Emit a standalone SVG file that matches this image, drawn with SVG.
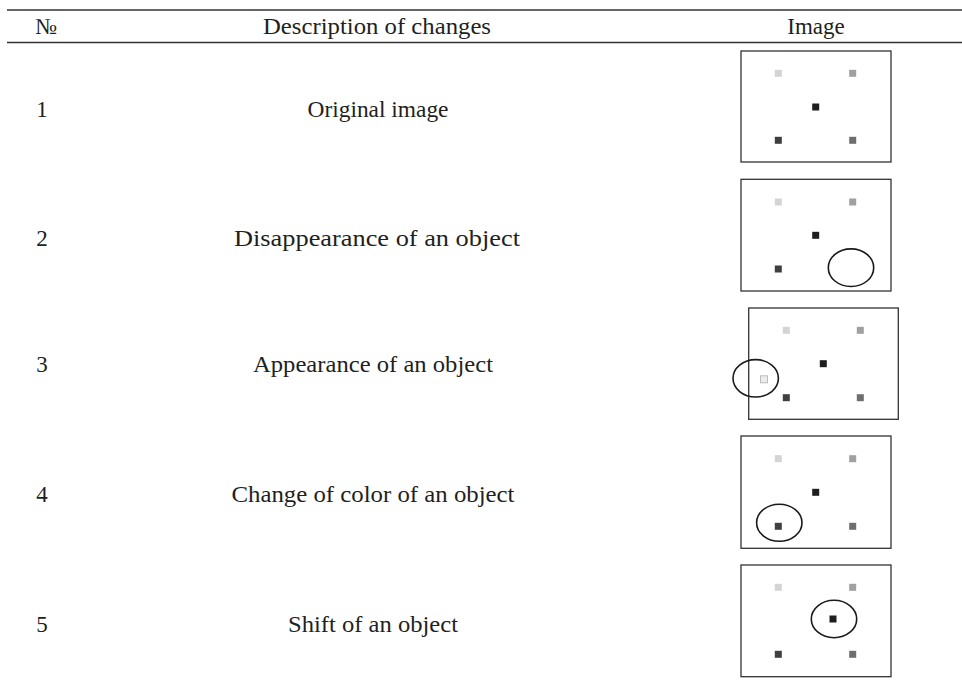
<svg xmlns="http://www.w3.org/2000/svg" width="962" height="682" viewBox="0 0 962 682">
<style>
text{font-family:"Liberation Serif","Times New Roman",serif;font-size:23px;fill:#231f20;text-anchor:middle}
.rule{stroke:#333;stroke-width:1.4;fill:none}
.frame{fill:#fff;stroke:#333;stroke-width:1.3}
.mark{fill:none;stroke:#1a1a1a;stroke-width:1.6}
.c1{fill:#d4d4d4}.c2{fill:#a0a0a0}.c3{fill:#1e1e1e}.c4{fill:#3f3f3f}.c5{fill:#6e6e6e}
.c6{fill:#ececec;stroke:#bdbdbd;stroke-width:1}
</style>
<defs>
<g id="sq"><rect x="-3.5" y="-3.5" width="7" height="7"/></g>
</defs>
<rect width="962" height="682" fill="#fff"/>
<g id="table-rules">
<line class="rule" x1="7" y1="10" x2="962" y2="10"/>
<line class="rule" x1="7" y1="42.5" x2="962" y2="42.5"/>
</g>
<g id="header">
<text x="46" y="34">№</text>
<text x="377" y="34" textLength="228" lengthAdjust="spacingAndGlyphs">Description of changes</text>
<text x="816" y="34">Image</text>
</g>
<g id="row1">
<text x="42" y="117">1</text>
<text x="378" y="117" textLength="141" lengthAdjust="spacingAndGlyphs">Original image</text>
<rect class="frame" x="741" y="51" width="150" height="111"/>
<use href="#sq" class="c1" x="778.3" y="73.3"/>
<use href="#sq" class="c2" x="852.7" y="73.3"/>
<use href="#sq" class="c3" x="815.7" y="107"/>
<use href="#sq" class="c4" x="778.3" y="140.3"/>
<use href="#sq" class="c5" x="852.7" y="140.3"/>
</g>
<g id="row2">
<text x="42" y="246">2</text>
<text x="377" y="246" textLength="286" lengthAdjust="spacingAndGlyphs">Disappearance of an object</text>
<rect class="frame" x="741" y="179.3" width="150" height="111.7"/>
<use href="#sq" class="c1" x="778.3" y="202"/>
<use href="#sq" class="c2" x="852.7" y="202"/>
<use href="#sq" class="c3" x="815.7" y="235.3"/>
<use href="#sq" class="c4" x="778.3" y="269"/>
<ellipse class="mark" cx="851" cy="267.7" rx="22.7" ry="18.8"/>
</g>
<g id="row3">
<text x="42" y="372.3">3</text>
<text x="373" y="372.3" textLength="240" lengthAdjust="spacingAndGlyphs">Appearance of an object</text>
<rect class="frame" x="748.7" y="308" width="149.6" height="111.3"/>
<use href="#sq" class="c1" x="786.3" y="330.3"/>
<use href="#sq" class="c2" x="860.3" y="330.3"/>
<use href="#sq" class="c3" x="823.3" y="363.7"/>
<use href="#sq" class="c4" x="786.3" y="397.7"/>
<use href="#sq" class="c5" x="860.3" y="397.7"/>
<use href="#sq" class="c6" x="764" y="379.3"/>
<ellipse class="mark" cx="755.7" cy="378.3" rx="22.7" ry="18.7"/>
</g>
<g id="row4">
<text x="42" y="501.7">4</text>
<text x="373" y="501.7" textLength="283" lengthAdjust="spacingAndGlyphs">Change of color of an object</text>
<rect class="frame" x="741" y="436" width="150" height="112.3"/>
<use href="#sq" class="c1" x="778.3" y="458.7"/>
<use href="#sq" class="c2" x="852.7" y="458.7"/>
<use href="#sq" class="c3" x="815.7" y="492.3"/>
<use href="#sq" class="c4" x="778.3" y="526.3"/>
<use href="#sq" class="c5" x="852.7" y="526.3"/>
<ellipse class="mark" cx="779.3" cy="522.7" rx="22.7" ry="18.5"/>
</g>
<g id="row5">
<text x="42" y="632">5</text>
<text x="373" y="632" textLength="170" lengthAdjust="spacingAndGlyphs">Shift of an object</text>
<rect class="frame" x="741" y="565" width="150" height="111.7"/>
<use href="#sq" class="c1" x="778.3" y="587.3"/>
<use href="#sq" class="c2" x="852.7" y="587.3"/>
<use href="#sq" class="c3" x="833" y="619"/>
<use href="#sq" class="c4" x="778.3" y="654.3"/>
<use href="#sq" class="c5" x="852.7" y="654.3"/>
<ellipse class="mark" cx="834" cy="619" rx="22.7" ry="18.7"/>
</g>
</svg>
